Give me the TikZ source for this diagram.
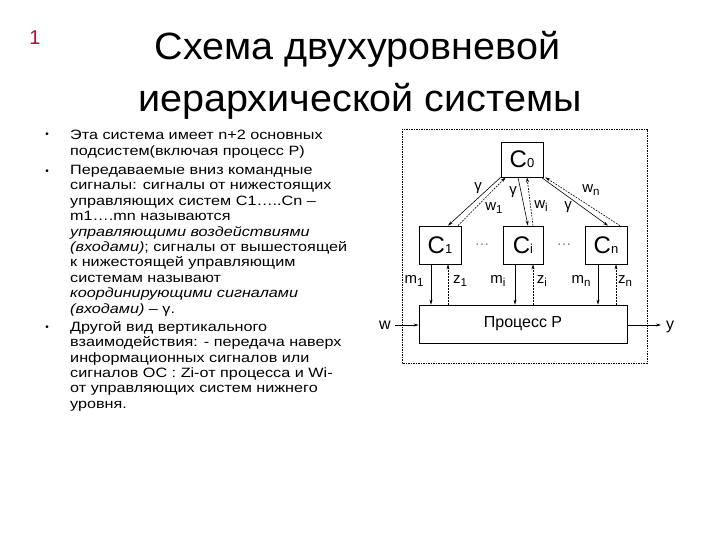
\documentclass[tikz,border=0pt]{standalone}
\usepackage{fontspec}
\setmainfont{Liberation Sans}
\newfontfamily\bodyfont[FakeStretch=1.2]{Liberation Sans}
\newfontfamily\titlefont[FakeStretch=1.04]{Liberation Sans}
\usetikzlibrary{arrows.meta}
\definecolor{numred}{HTML}{B0103A}
\newcommand{\csub}[1]{{\fontsize{13}{13}\selectfont #1}}
\newcommand{\lsub}[1]{\raisebox{-2.5pt}{\fontsize{11.5}{11.5}\selectfont #1}}
\begin{document}
\begin{tikzpicture}[x=1pt,y=-1pt,
  box/.style={draw,line width=0.7pt,inner sep=0pt},
  cbox/.style={box,minimum height=38pt,font=\fontsize{24}{24}\selectfont},
  sig/.style={line width=0.6pt,-{Stealth[length=5pt,width=3pt]}},
  fb/.style={sig,dash pattern=on 1.8pt off 1.2pt},
  lbl/.style={font=\fontsize{15}{15}\selectfont,inner sep=0pt},
  para/.style={anchor=north west,align=left,inner sep=0pt,font=\bodyfont\fontsize{13.5}{15.4}\selectfont},
  bul/.style={inner sep=0pt,font=\fontsize{10}{10}\selectfont}]
\useasboundingbox[fill=white] (0,0) rectangle (720,540);
% title
\node[text=numred,font=\fontsize{20}{20}\selectfont] (num) at (35,38) {1};
\node[anchor=base,font=\titlefont\fontsize{38}{38}\selectfont] (t1) at (357.5,60) {Схема двухуровневой};
\node[anchor=base,font=\titlefont\fontsize{38}{38}\selectfont] (t2) at (360,112) {иерархической системы};
% left text
\node[bul] (b1) at (47,135) {•};
\node[bul] (b2) at (47,172) {•};
\node[bul] (b3) at (47,328) {•};
\node[para] (p1) at (70,130) {Эта система имеет n+2 основных\\подсистем(включая процесс P)};
\node[para] (p2) at (70,165) {Передаваемые вниз командные\\сигналы: сигналы от нижестоящих\\управляющих систем C1…..Cn –\\m1….mn называются\\\textit{управляющими воздействиями}\\\textit{(входами)}; сигналы от вышестоящей\\к нижестоящей управляющим\\системам называют\\\textit{координирующими сигналами}\\\textit{(входами)} – γ.};
\node[para] (p3) at (70,321) {Другой вид вертикального\\взаимодействия: - передача наверх\\информационных сигналов или\\сигналов ОС : Zi-от процесса и Wi-\\от управляющих систем нижнего\\уровня.};
% diagram
\draw[line width=0.6pt,dash pattern=on 1.5pt off 1pt] (402,129) rectangle (647,363);
\node[box,minimum width=42pt,minimum height=35pt,font=\fontsize{24}{24}\selectfont] (C0) at (522,159.5) {C\csub{0}};
\node[cbox,minimum width=42pt] (C1) at (440,245) {C\csub{1}};
\node[cbox,minimum width=40pt] (Ci) at (523,245) {C\csub{i}};
\node[cbox,minimum width=42pt] (Cn) at (606,245) {C\csub{n}};
\node[box,minimum width=208pt,minimum height=38pt,font=\fontsize{16}{16}\selectfont] (P) at (523,324) {Процесс P};
\node[lbl,text=gray] (d1) at (482,245) {…};
\node[lbl,text=gray] (d2) at (564,245) {…};
% C0 <-> C links
\draw[sig] (C0.south west) -- ([xshift=8pt]C1.north);
\draw[fb] ([xshift=18pt]C1.north) -- ([xshift=5pt]C0.south west);
\draw[sig] ([xshift=-4pt]C0.south) -- ([xshift=5pt]Ci.north);
\draw[fb] ([xshift=10pt]Ci.north) -- ([xshift=5pt]C0.south);
\draw[sig] ([xshift=-2pt]C0.south east) -- ([xshift=2pt]Cn.north);
\draw[fb] ([xshift=14pt]Cn.north) -- ([xshift=2pt]C0.south east);
\node[lbl] (g1) at (478,188) {γ};
\node[lbl] (w1) at (494,208) {w\lsub{1}};
\node[lbl] (g2) at (513,192) {γ};
\node[lbl] (wi) at (541,206) {w\lsub{i}};
\node[lbl] (wn) at (591,190) {w\lsub{n}};
\node[lbl] (g3) at (568,207) {γ};
% C -> P links
\draw[sig] ([xshift=-9pt]C1.south) -- ([xshift=-92pt]P.north);
\draw[fb] ([xshift=-75pt]P.north) -- ([xshift=8pt]C1.south);
\draw[sig] ([xshift=-8pt]Ci.south) -- ([xshift=-8pt]P.north);
\draw[fb] ([xshift=10pt]P.north) -- ([xshift=10pt]Ci.south);
\draw[sig] ([xshift=-8pt]Cn.south) -- ([xshift=75pt]P.north);
\draw[fb] ([xshift=93pt]P.north) -- ([xshift=10pt]Cn.south);
\node[lbl] (m1) at (414,281) {m\lsub{1}};
\node[lbl] (z1) at (460,281) {z\lsub{1}};
\node[lbl] (mi) at (498,281) {m\lsub{i}};
\node[lbl] (zi) at (542,281) {z\lsub{i}};
\node[lbl] (mn) at (581,281) {m\lsub{n}};
\node[lbl] (zn) at (625,281) {z\lsub{n}};
% inputs / outputs
\coordinate (win) at (395,325);
\coordinate (yout) at (661,325);
\draw[sig] (win) -- (P.west |- win);
\draw[sig] (P.east |- yout) -- (yout);
\node[lbl,font=\fontsize{16}{16}\selectfont] (w) at (385,325) {w};
\node[lbl,font=\fontsize{16}{16}\selectfont] (y) at (670,327) {y};
\end{tikzpicture}
\end{document}
